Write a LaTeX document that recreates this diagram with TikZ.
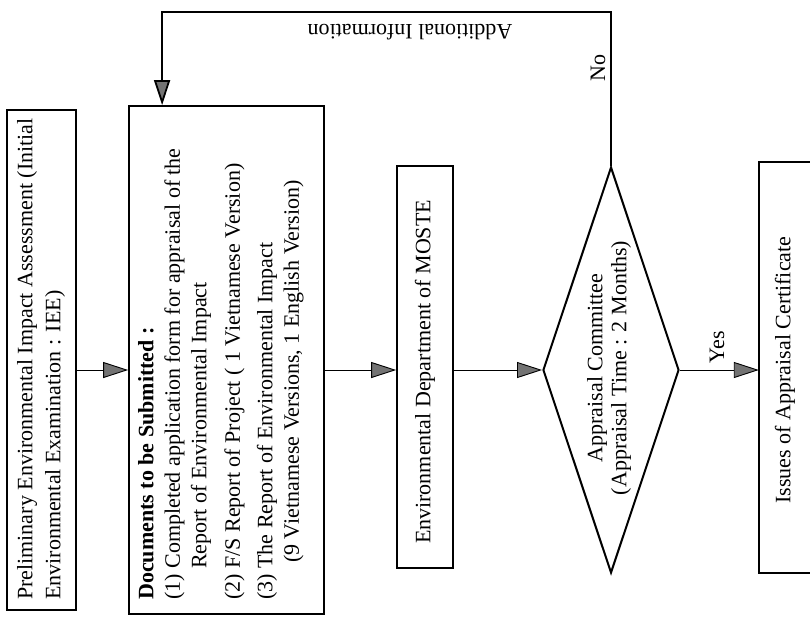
\documentclass[tikz,border=0pt]{standalone}
\usepackage{fontspec}
\setmainfont{Liberation Serif}
\usetikzlibrary{shapes.geometric, arrows.meta}
\begin{document}
\begin{tikzpicture}[x=1pt, y=-1pt,
  box/.style={draw, line width=1.8pt, inner sep=0pt, rectangle},
  txt/.style={rotate=90, font=\fontsize{22}{26.5}\selectfont, inner sep=0pt, align=left},
  ctxt/.style={rotate=90, font=\fontsize{22}{24}\selectfont, inner sep=0pt, align=center},
  arrowtip/.style={-{Triangle[length=25pt,width=16pt,fill=black!55]}},
  conn/.style={line width=0.9pt, arrowtip},
  feedback/.style={line width=1.8pt, arrowtip},
]
\useasboundingbox (0,0) rectangle (810,619);

% boxes
\node[box, minimum width=69pt, minimum height=500pt] (b1) at (41.5,360) {};
\node[box, minimum width=195pt, minimum height=508pt] (b2) at (226.5,360) {};
\node[box, minimum width=56pt, minimum height=402pt] (b3) at (425,367) {};
\node[draw, diamond, line width=2pt, inner sep=0pt, minimum width=136pt, minimum height=406pt] (d) at (611,370) {};
\node[inner sep=0pt, minimum width=62pt, minimum height=411pt] (b4) at (790,367.5) {};
\draw[line width=1.8pt] (b4.north east) -- (b4.north west) -- (b4.south west) -- (b4.south east);

% texts
\node[txt, anchor=north west, font=\fontsize{22}{28}\selectfont] (t1) at (17,600)
  {Preliminary Environmental Impact Assessment (Initial\\Environmental Examination : IEE)};
\node[txt, anchor=north west] (t2) at (138,600)
  {\textbf{Documents to be Submitted :}\\
   (1) Completed application form for appraisal of the\\
   \hspace*{31pt}Report of Environmental Impact\\[7pt]
   (2) F/S Report of Project ( 1 Vietnamese Version)\\[6pt]
   (3) The Report of Environmental Impact\\
   \hspace*{37pt}(9 Vietnamese Versions, 1 English Version)};
\node[ctxt] (t3) at (425,372) {Environmental Department of MOSTE};
\node[ctxt] (t4) at (609,368) {Appraisal Committee\\(Appraisal Time : 2 Months)};
\node[ctxt] (t5) at (785,370) {Issues of Appraisal Certificate};

% connectors
\draw[conn] (b1.east |- d.west) -- (b2.west |- d.west);
\draw[conn] (b2.east |- d.west) -- (b3.west |- d.west);
\draw[conn] (b3.east |- d.west) -- (d.west);
\draw[conn] (d.east) -- (b4.west |- d.east);
\coordinate (fbtop) at (0,12);
\draw[feedback] (d.north) -- (d.north |- fbtop) -| ([xshift=34pt]b2.north west);

% labels
\node[rotate=180, font=\fontsize{22}{24}\selectfont, inner sep=0pt] (ai) at (410,32) {Additional Information};
\node[rotate=90, font=\fontsize{22}{24}\selectfont, inner sep=0pt] (no) at (598,68) {No};
\node[rotate=90, font=\fontsize{22}{24}\selectfont, inner sep=0pt] (yes) at (717,347) {Yes};
\end{tikzpicture}
\end{document}
